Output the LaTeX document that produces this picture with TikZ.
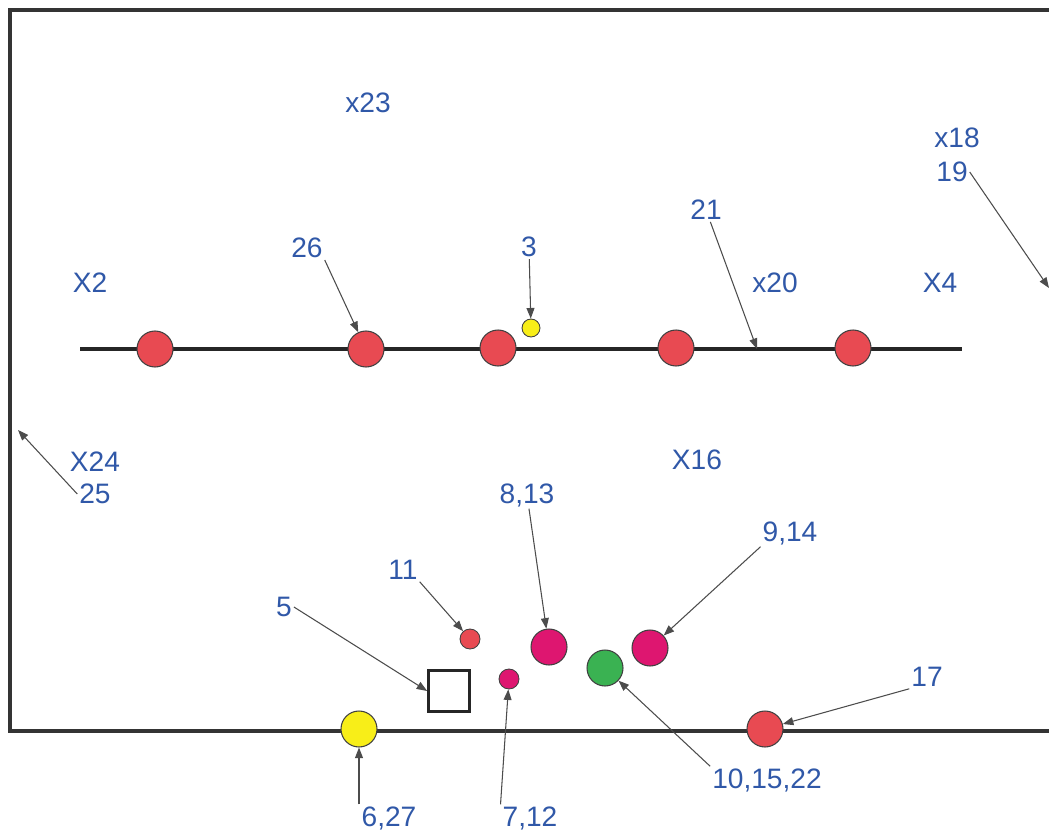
\documentclass[tikz,border=0pt]{standalone}
\usepackage{fontspec}
\setmainfont{Liberation Sans}
\usetikzlibrary{arrows.meta}
\definecolor{lblblue}{RGB}{48,88,168}
\definecolor{dotred}{RGB}{232,74,82}
\definecolor{dotpink}{RGB}{222,22,112}
\definecolor{dotgreen}{RGB}{58,178,82}
\definecolor{dotyellow}{RGB}{248,238,24}
\definecolor{framegray}{RGB}{52,52,52}

\begin{document}
\begin{tikzpicture}[x=0.02cm, y=-0.02cm,
  lbl/.style={text=lblblue, font=\fontsize{16}{18}\selectfont, inner sep=1pt},
  bigdot/.style={circle, draw=black!75, line width=0.6pt, minimum size=0.72cm, inner sep=0pt},
  smalldot/.style={circle, draw=black!75, line width=0.5pt, minimum size=0.4cm, inner sep=0pt},
  arr/.style={-{Triangle[length=6pt,width=4.5pt]}, draw=black!70, line width=0.6pt}]
\useasboundingbox[fill=white] (0,0) rectangle (1049,838);

\draw[framegray, line width=2.8pt] (1049,10) -- (10,10) -- (10,731) -- (1049,731);
\draw[black!85, line width=2.8pt] (80,349) -- (962,349);

\node[bigdot, fill=dotred] (c2) at (155,349) {};
\node[bigdot, fill=dotred] (c26) at (366,349) {};
\node[bigdot, fill=dotred] (c1) at (498,348) {};
\node[bigdot, fill=dotred] (c20) at (676,348) {};
\node[bigdot, fill=dotred] (c4) at (853,348) {};
\node[smalldot, fill=dotyellow, minimum size=0.36cm] (c3) at (531,328) {};
\coordinate (p21) at (757,349);
\coordinate (p19) at (1049,288);
\coordinate (p25) at (18,430);

\node[smalldot, fill=dotred] (c11) at (470,639) {};
\node[bigdot, fill=dotpink] (c813) at (549,647) {};
\node[smalldot, fill=dotpink] (c712) at (509,679) {};
\node[bigdot, fill=dotgreen] (c101522) at (605,668) {};
\node[bigdot, fill=dotpink] (c914) at (650,648) {};
\node[draw=black!85, line width=1.5pt, minimum size=0.82cm, inner sep=0pt] (sq5) at (449,691) {};
\node[bigdot, fill=dotyellow] (c627) at (359,729) {};
\node[bigdot, fill=dotred] (c17) at (765,729) {};

\node[lbl] (lx23) at (368,103) {x23};
\node[lbl] (lx18) at (957,138) {x18};
\node[lbl] (l19) at (952,172) {19};
\node[lbl] (l21) at (706,210) {21};
\node[lbl] (l26) at (307,248) {26};
\node[lbl] (l3) at (529,247) {3};
\node[lbl] (lx2) at (90,283) {X2};
\node[lbl] (lx20) at (775,283) {x20};
\node[lbl] (lx4) at (940,283) {X4};
\node[lbl] (lx24) at (95,462) {X24};
\node[lbl] (l25) at (95,494) {25};
\node[lbl] (lx16) at (697,460) {X16};
\node[lbl] (l813) at (527,495) {8,13};
\node[lbl] (l914) at (790,533) {9,14};
\node[lbl] (l11) at (403,570) {11};
\node[lbl] (l5) at (284,607) {5};
\node[lbl] (l17) at (927,677) {17};
\node[lbl] (l101522) at (767,780) {10,15,22};
\node[lbl] (l627) at (389,818) {6,27};
\node[lbl] (l712) at (530,818) {7,12};

\draw[arr] (l19.east) -- (p19);
\draw[arr] (l21) -- (p21);
\draw[arr] (l26.south east) -- (c26);
\draw[arr] (l3) -- (c3);
\draw[arr] (l25.west) -- (p25);
\draw[arr] (l813) -- (c813);
\draw[arr] (l914.south west) -- (c914);
\draw[arr] (l11.south east) -- (c11);
\draw[arr] (l5.east) -- (sq5.west);
\draw[arr] (l17.south west) -- (c17);
\draw[arr] (l101522.north west) -- (c101522);
\draw[arr] (c627 |- l627.north) -- (c627);
\draw[arr] (l712.north west) -- (c712);
\end{tikzpicture}
\end{document}
